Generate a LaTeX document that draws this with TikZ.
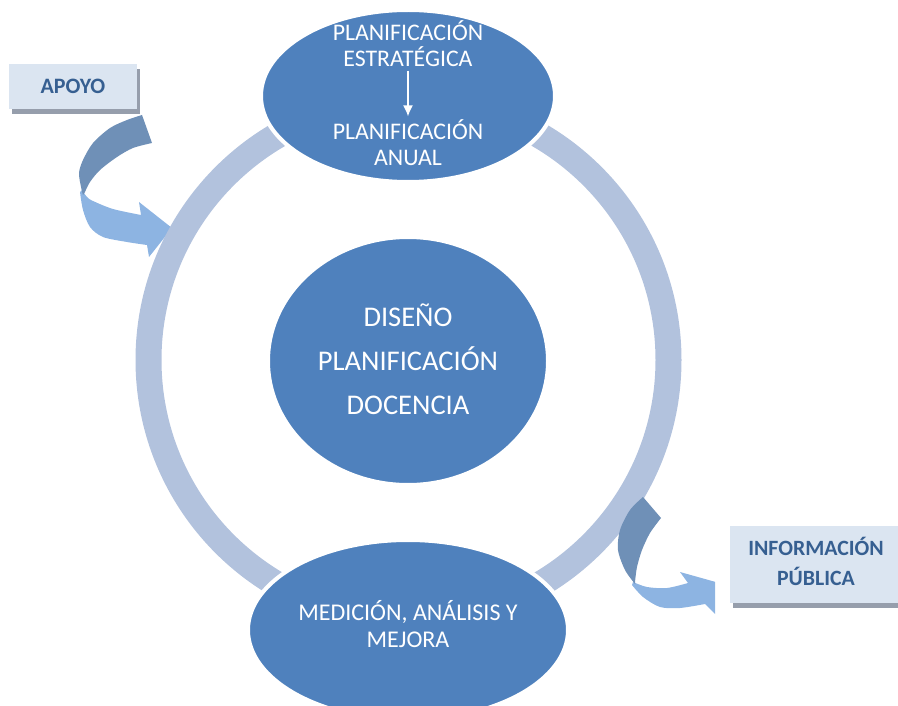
\documentclass[tikz,border=0pt]{standalone}
\usepackage{fontspec}
\setmainfont{Carlito}
\usepackage{xcolor}
\usepackage{tikz}
\usetikzlibrary{shapes.geometric,arrows.meta,shadows}

\definecolor{elblue}{RGB}{79,129,189}
\definecolor{ringblue}{RGB}{178,194,221}
\definecolor{arrdark}{RGB}{111,144,183}
\definecolor{arrlight}{RGB}{141,180,226}
\definecolor{boxfill}{RGB}{219,229,241}
\definecolor{boxtext}{RGB}{54,95,145}
\definecolor{shadowgray}{RGB}{150,158,172}

\begin{document}
\begin{tikzpicture}[x=1pt,y=-1pt,
  bubble/.style={ellipse,fill=elblue,draw=white,line width=4pt,inner sep=0pt},
  bubtext/.style={text=white,align=center},
  labelbox/.style={rectangle,fill=boxfill,text=boxtext,align=center,inner sep=0pt,
    font=\fontsize{22}{30}\selectfont\bfseries,
    drop shadow={shadow xshift=3pt,shadow yshift=-5pt,fill=shadowgray,opacity=1}}]
\useasboundingbox (0,0) rectangle (898,706);

% left curved arrow, under the ring
\fill[arrlight] plot[smooth] coordinates {(82,190) (87,197) (93,201) (113,209) (141,215)} -- (139,202) -- (172,228) -- (149,257) -- plot[smooth] coordinates {(147,245) (127,242) (103,237) (90,227) (83,210) (80,192)} -- cycle;
\fill[arrdark] plot[smooth] coordinates {(142,115) (127,120) (110,128) (93,143) (83,160) (79,173) (81,187) (83,195)} -- plot[smooth] coordinates {(85,192) (90,182) (100,170) (117,157) (133,148) (152,143)} -- cycle;

% ring
\coordinate (mid) at (408.5,360);
\draw[ringblue,line width=26pt] (mid) circle[radius=260pt];

% right curved arrow
\begin{scope}
\clip (600,480) rectangle (715,640);
\fill[arrlight] plot[smooth] coordinates {(633,582) (647,587) (667,588) (688,583)} -- (680,572) -- (730,586) -- (715,614) -- plot[smooth] coordinates {(705,604) (680,608) (660,607) (643,597) (632,585)} -- cycle;
\end{scope}
\fill[arrdark] plot[smooth] coordinates {(643,497) (630,510) (620,530) (618,550) (625,570) (635,584)} -- plot[smooth] coordinates {(635,582) (637,567) (642,550) (650,533) (661,518)} -- cycle;

% ellipses
\node[bubble,minimum width=294pt,minimum height=172pt] (plan) at (408,96) {};
\node[bubble,minimum width=280pt,minimum height=248pt] (core) at (408,361) {};
\node[bubble,minimum width=320pt,minimum height=180pt] (mejora) at (408,630) {};

\node[bubtext,font=\fontsize{23.8}{26}\selectfont] (estrat) at (408,44) {PLANIFICACIÓN\\ESTRATÉGICA};
\node[bubtext,font=\fontsize{23.8}{26}\selectfont] (anual) at (408,143) {PLANIFICACIÓN\\ANUAL};
\draw[white,line width=1.6pt,-{Latex[length=11pt,width=10pt]}] (estrat.south) -- (anual.north);

\node[bubtext,font=\fontsize{28.5}{44}\selectfont] (dpd) at (408,359) {DISEÑO\\PLANIFICACIÓN\\DOCENCIA};
\node[bubtext,font=\fontsize{24}{27}\selectfont] (mam) at (408,624) {MEDICIÓN, ANÁLISIS Y\\MEJORA};

% side boxes
\node[labelbox,minimum width=128pt,minimum height=45pt] (apoyo) at (73,86.5) {APOYO};
\node[labelbox,minimum width=172pt,minimum height=77pt,font=\fontsize{21.8}{30}\selectfont\bfseries] (info) at (816,564.5) {INFORMACIÓN\\PÚBLICA\rule[-6pt]{0pt}{6pt}};
\end{tikzpicture}
\end{document}
